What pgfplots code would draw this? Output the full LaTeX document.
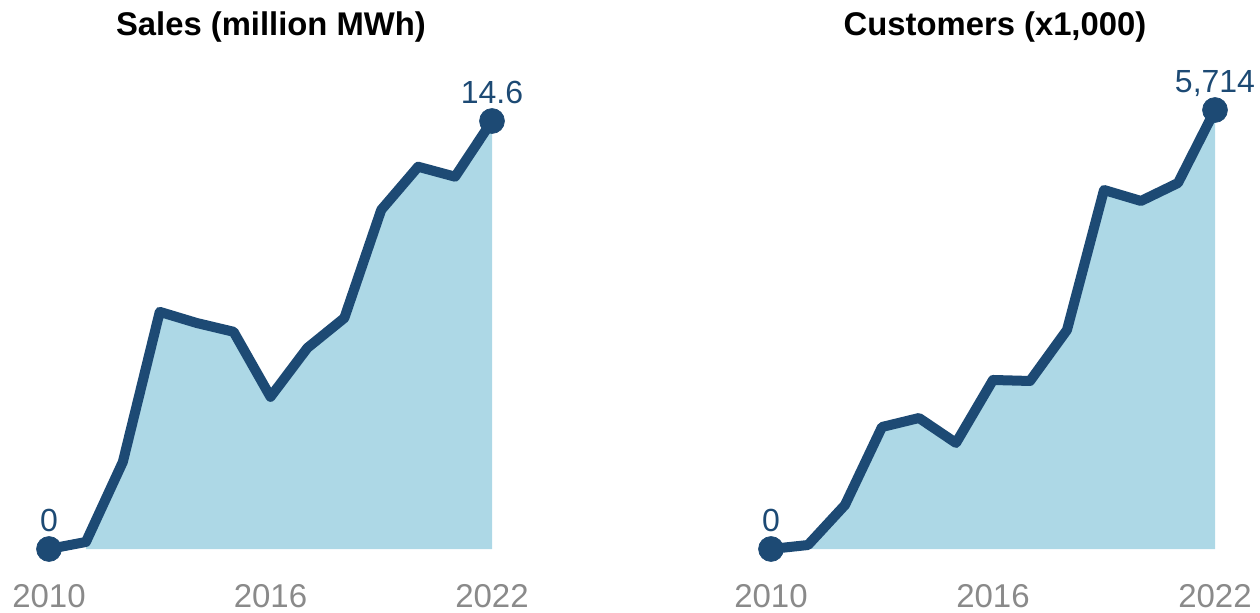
\documentclass[border=0pt]{standalone}
\usepackage{fontspec}
\setmainfont{Liberation Sans}
\usepackage{pgfplots}
\pgfplotsset{compat=1.18}
\usepackage{pgfplotstable}

\definecolor{lineblue}{HTML}{1D4A74}
\definecolor{areablue}{HTML}{ADD8E6}
\definecolor{tickgray}{HTML}{8A8A8A}

% sales, million MWh
\pgfplotstableread{
year val
2010 0
2011 0.24
2012 2.97
2013 8.09
2014 7.71
2015 7.41
2016 5.19
2017 6.86
2018 7.88
2019 11.57
2020 13.04
2021 12.70
2022 14.6
}\sales
\pgfplotstableread{
year val
2011 0.24
2012 2.97
2013 8.09
2014 7.71
2015 7.41
2016 5.19
2017 6.86
2018 7.88
2019 11.57
2020 13.04
2021 12.70
2022 14.6
}\salesarea
\pgfplotstableread{
year val lab
2010 0 0
2022 14.6 14.6
}\salesends

% customers, x1,000
\pgfplotstableread{
year val
2010 0
2011 52
2012 573
2013 1588
2014 1705
2015 1380
2016 2200
2017 2187
2018 2851
2019 4673
2020 4530
2021 4764
2022 5714
}\cust
\pgfplotstableread{
year val
2011 52
2012 573
2013 1588
2014 1705
2015 1380
2016 2200
2017 2187
2018 2851
2019 4673
2020 4530
2021 4764
2022 5714
}\custarea
\pgfplotstableread{
year val lab
2010 0 0
2022 5714 5,714
}\custends

\pgfplotsset{
  panel/.style={
    scale only axis, anchor=south west, clip=false,
    xmin=2010, xmax=2022, ymin=0,
    axis line style={draw=none}, tick style={draw=none},
    ytick=\empty,
    xtick={2010,2016,2022}, xticklabels={2010,2016,2022},
    xticklabel style={anchor=base, yshift=-29pt, text=tickgray, font=\fontsize{16.5}{18}\selectfont},
  },
  trend/.style={lineblue, line width=5pt, line join=round, line cap=round},
  ends/.style={only marks, mark=*, mark size=6.2pt, lineblue,
    nodes near coords, point meta=explicit symbolic,
    every node near coord/.style={anchor=base, yshift=9pt, text=lineblue, font=\fontsize{16}{18}\selectfont}},
}

\begin{document}
\begin{tikzpicture}
\useasboundingbox (0,0) rectangle (630pt,306pt);

\begin{axis}[panel, at={(24.5pt,31.5pt)}, width=221.5pt, height=214pt, ymax=14.6]
  \addplot[draw=none, fill=areablue] table[x=year, y=val] {\salesarea} \closedcycle;
  \addplot[trend] table[x=year, y=val] {\sales};
  \addplot[ends] table[x=year, y=val, meta=lab] {\salesends};
\end{axis}

\begin{axis}[panel, at={(385.5pt,31.5pt)}, width=222pt, height=219.5pt, ymax=5714]
  \addplot[draw=none, fill=areablue] table[x=year, y=val] {\custarea} \closedcycle;
  \addplot[trend] table[x=year, y=val] {\cust};
  \addplot[ends] table[x=year, y=val, meta=lab] {\custends};
\end{axis}

\node[font=\bfseries\fontsize{16.4}{18}\selectfont] at (135.5pt,292.5pt) {Sales (million MWh)};
\node[font=\bfseries\fontsize{16.4}{18}\selectfont] at (497.5pt,292.5pt) {Customers (x1,000)};
\end{tikzpicture}
\end{document}
